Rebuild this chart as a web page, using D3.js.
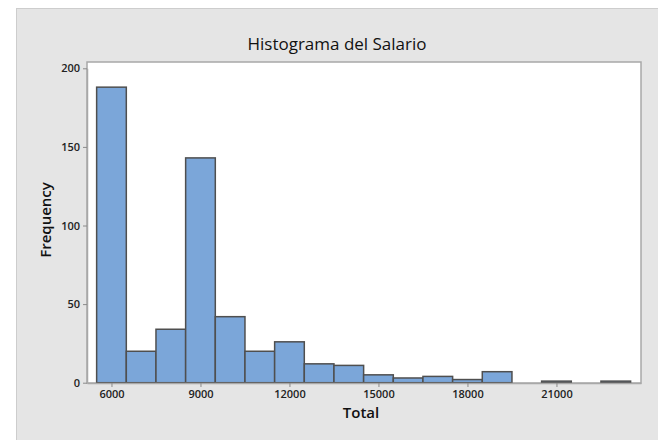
<!DOCTYPE html>
<html>
<head>
<meta charset="utf-8">
<script src="https://cdn.jsdelivr.net/npm/d3@7"></script>
<style>
  body { margin: 0; background: #fff; }
  text { font-family: "Open Sans", "DejaVu Sans", sans-serif; }
</style>
</head>
<body>
<div class="chart"></div>
<script>
// histogram bins (midpoints) and counts
var binMids = [6000, 7000, 8000, 9000, 10000, 11000, 12000, 13000, 14000,
               15000, 16000, 17000, 18000, 19000, 20000, 21000, 22000, 23000];
var counts = [188, 20, 34, 143, 42, 20, 26, 12, 11, 5, 3, 4, 2, 7, 0, 1, 0, 1];
var xTicks = [6000, 9000, 12000, 15000, 18000, 21000];
var yTicks = [0, 50, 100, 150, 200];
var binWidth = 1000;

var svgWidth = 658;
var svgHeight = 440;
var margin = { top: 62, right: 17, bottom: 57, left: 87 };
var width = svgWidth - margin.left - margin.right;
var height = svgHeight - margin.top - margin.bottom;

var svg = d3.select(".chart")
  .append("svg")
  .attr("width", svgWidth)
  .attr("height", svgHeight);

// gray outer panel
svg.append("rect")
  .attr("x", 16.5).attr("y", 8.5)
  .attr("width", svgWidth - 16).attr("height", svgHeight - 8)
  .attr("fill", "#e5e5e5")
  .attr("stroke", "#cdcdcd");

svg.append("text")
  .attr("x", 337)
  .attr("y", 50)
  .attr("text-anchor", "middle")
  .attr("font-size", "17px")
  .attr("fill", "#111")
  .text("Histograma del Salario");

var chart = svg.append("g")
  .attr("transform", "translate(" + margin.left + "," + margin.top + ")");

var x = d3.scaleLinear().domain([5175, 23850]).range([0, width]);
var y = d3.scaleLinear().domain([0, 200]).range([height - 0.3, 6.3]);

chart.append("rect")
  .attr("x", 0).attr("y", 0)
  .attr("width", width).attr("height", height)
  .attr("fill", "#fff")
  .attr("stroke", "#a8a8a8")
  .attr("stroke-width", 1.5);

var data = binMids.map(function(m, i) { return { mid: m, n: counts[i] }; });

chart.selectAll(".bar")
  .data(data)
  .enter()
  .append("rect")
  .attr("class", "bar")
  .attr("x", function(d) { return x(d.mid - binWidth / 2); })
  .attr("width", function(d) { return x(d.mid + binWidth / 2) - x(d.mid - binWidth / 2); })
  .attr("y", function(d) { return y(d.n); })
  .attr("height", function(d) { return y(0) - y(d.n); })
  .attr("fill", "#7ba6d9")
  .attr("stroke", "#4f4f4f")
  .attr("stroke-width", 1.5);

// axes
var bottomAxis = d3.axisBottom(x).tickValues(xTicks).tickFormat(d3.format("d"))
  .tickSize(4).tickSizeOuter(0).tickPadding(3);
var leftAxis = d3.axisLeft(y).tickValues(yTicks).tickFormat(d3.format("d"))
  .tickSize(4).tickSizeOuter(0).tickPadding(3);

var gx = chart.append("g")
  .attr("transform", "translate(0," + height + ")")
  .call(bottomAxis);
var gy = chart.append("g")
  .call(leftAxis);

[gx, gy].forEach(function(g) {
  g.select(".domain").attr("stroke", "#a8a8a8").attr("stroke-width", 1.5);
  g.selectAll(".tick line").attr("stroke", "#8a8a8a");
  g.selectAll(".tick text")
    .attr("font-size", "11px")
    .attr("font-weight", "600")
    .attr("fill", "#222");
});

chart.append("text")
  .attr("transform", "rotate(-90)")
  .attr("x", -158)
  .attr("y", -36)
  .attr("text-anchor", "middle")
  .attr("font-size", "15px")
  .attr("font-weight", "600")
  .attr("fill", "#111")
  .text("Frequency");

chart.append("text")
  .attr("x", 274)
  .attr("y", height + 35)
  .attr("text-anchor", "middle")
  .attr("font-size", "15px")
  .attr("font-weight", "600")
  .attr("fill", "#111")
  .text("Total");
</script>
</body>
</html>
